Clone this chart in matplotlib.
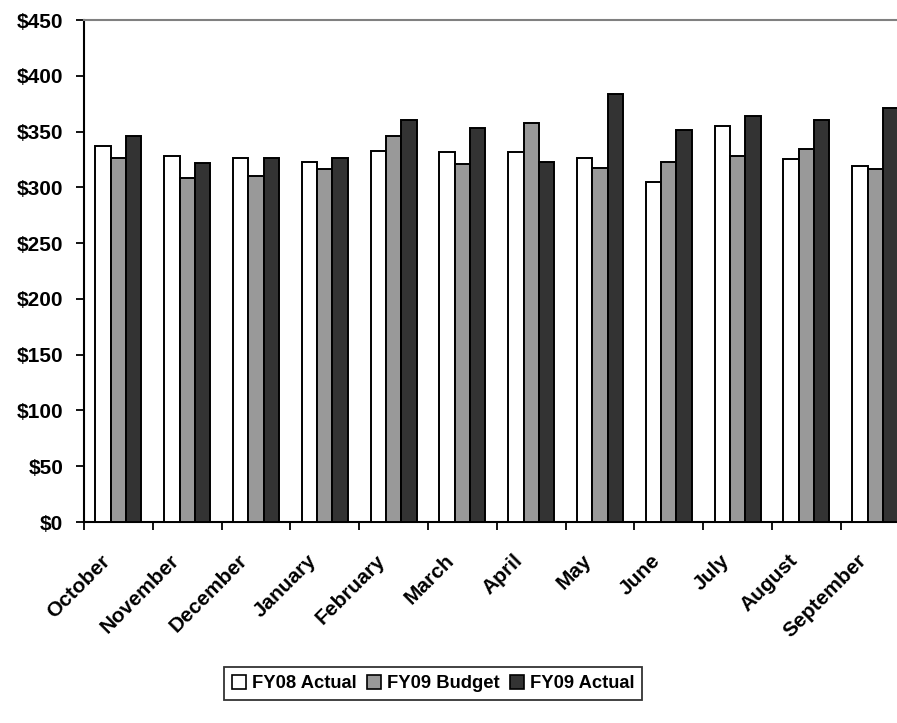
import matplotlib
matplotlib.use("Agg")
import matplotlib.pyplot as plt
import matplotlib.transforms as mtransforms
from matplotlib.patches import Patch
import numpy as np

categories = ["October", "November", "December", "January", "February", "March",
              "April", "May", "June", "July", "August", "September"]
fy08_actual = [337, 328, 326, 323, 333, 332, 332, 326, 305, 355, 325, 319]
fy09_budget = [326, 308, 310, 316, 346, 321, 358, 317, 323, 328, 334, 316]
fy09_actual = [346, 322, 326, 326, 360, 353, 323, 384, 351, 364, 360, 371]
series_names = ["FY08 Actual", "FY09 Budget", "FY09 Actual"]
series_colors = ["#ffffff", "#999999", "#333333"]
yticks = [0, 50, 100, 150, 200, 250, 300, 350, 400, 450]

plt.rcParams['font.family'] = ['Liberation Sans', 'DejaVu Sans']
plt.rcParams['font.weight'] = 'bold'
FS = 15
FS_LEG = 13.2

W, H = 897, 723
fig = plt.figure(figsize=(W / 100, H / 100), dpi=100)
cat_w = 68.8
ax = fig.add_axes([84 / W, (H - 522) / H, 12 * cat_w / W, (522 - 20) / H])

x = np.arange(len(categories))
bw = 0.222
for i, (vals, col) in enumerate(zip([fy08_actual, fy09_budget, fy09_actual], series_colors)):
    ax.bar(x + (i - 1) * bw, vals, width=bw, color=col, edgecolor='black',
           linewidth=1.4, label=series_names[i], zorder=3)

ax.set_xlim(-0.5, len(categories) - 0.5)
ax.set_ylim(0, 450)
ax.set_yticks(yticks)
ax.set_yticklabels([f"${v}" for v in yticks], fontsize=FS, fontweight='bold')
ax.set_xticks(np.arange(len(categories) + 1) - 0.5)
ax.set_xticklabels([])
ax.tick_params(axis='both', direction='out', length=5.8, width=1.3, colors='black')
ax.tick_params(axis='y', pad=9)

for s in ['left', 'bottom']:
    ax.spines[s].set_color('black')
    ax.spines[s].set_linewidth(1.5)
ax.spines['top'].set_color('#808080')
ax.spines['top'].set_linewidth(1.5)
ax.spines['right'].set_visible(False)

offset = mtransforms.ScaledTranslation(-18 / 100, -29 / 100, fig.dpi_scale_trans)
trans = mtransforms.blended_transform_factory(ax.transData, ax.transAxes) + offset
for xi, lab in zip(x, categories):
    ax.text(xi, 0, lab, transform=trans, rotation=45, rotation_mode='anchor',
            ha='right', va='top', fontsize=FS, fontweight='bold', clip_on=False)

handles = [Patch(facecolor=c, edgecolor='black', linewidth=1.2) for c in series_colors]
leg = fig.legend(handles, series_names, loc='center', bbox_to_anchor=(433 / W, 1 - 683.5 / H),
                 ncol=3, frameon=True, fancybox=False, edgecolor='black',
                 prop={'size': FS_LEG, 'weight': 'bold'},
                 handlelength=0.8, handleheight=0.8, handletextpad=0.3,
                 columnspacing=0.55, borderpad=0.4, borderaxespad=0)
leg.get_frame().set_linewidth(1.3)

fig.savefig("out.png", dpi=100)
